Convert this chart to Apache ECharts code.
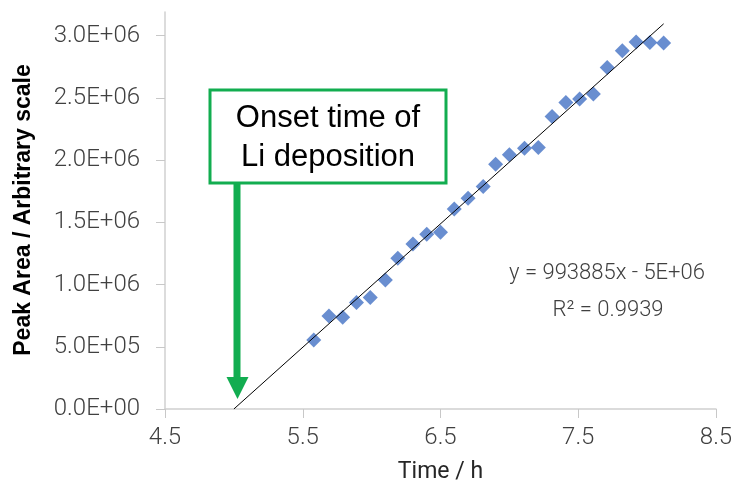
<!DOCTYPE html>
<html>
<head>
<meta charset="utf-8">
<script src="https://cdn.jsdelivr.net/npm/echarts@6/dist/echarts.min.js"></script>
<style>
  html, body { margin: 0; padding: 0; background: #fff; }
  #chart { width: 735px; height: 483px; }
</style>
</head>
<body>
<div id="chart"></div>
<script>
// 测定数据 (时间 h, 峰面积)
var timeH = [5.58, 5.69, 5.79, 5.89, 5.99, 6.10, 6.19, 6.30, 6.40, 6.50, 6.60, 6.70, 6.81,
  6.90, 7.00, 7.11, 7.21, 7.31, 7.41, 7.51, 7.61, 7.71, 7.82, 7.92, 8.02, 8.12]
var peakArea = [555000, 748000, 737000, 855000, 895000, 1037000, 1211000, 1326000, 1404000,
  1420000, 1608000, 1694000, 1787000, 1967000, 2042000, 2096000, 2101000, 2350000, 2462000,
  2490000, 2532000, 2744000, 2878000, 2948000, 2945000, 2940000]

// 近似直线的两端
var trendX = [5.0, 8.12]
var trendY = [0, 3095000]

var eqText = 'y = 993885x - 5E+06'
var r2Text = 'R² = 0.9939'

var green = '#12AD50'
var labelFont = 'Roboto'

function fmtExp (v) {
  if (v === 0) return '0.0E+00'
  var e = Math.floor(Math.log10(v))
  var m = v / Math.pow(10, e)
  return m.toFixed(1) + 'E+' + (e < 10 ? '0' + e : e)
}

var chart = echarts.init(document.getElementById('chart'))

var option = {
  animation: false,
  backgroundColor: '#fff',
  grid: { left: 165, right: 19, top: 12, bottom: 74, outerBoundsMode: 'none', containLabel: false },
  xAxis: {
    type: 'value',
    min: 4.5,
    max: 8.5,
    interval: 1,
    name: 'Time / h',
    nameLocation: 'middle',
    nameGap: 52,
    nameTextStyle: { fontFamily: labelFont, fontSize: 23, color: '#262626' },
    axisLine: { lineStyle: { color: '#D0D0D0', width: 1.5 } },
    axisTick: { inside: false, length: 9, lineStyle: { color: '#C8C8C8' } },
    axisLabel: {
      margin: 17,
      fontFamily: labelFont,
      fontWeight: 300,
      fontSize: 24,
      color: '#404040',
      formatter: function (v) { return v.toFixed(1) }
    },
    splitLine: { show: false }
  },
  yAxis: {
    type: 'value',
    min: 0,
    max: 3190000,
    interval: 500000,
    axisLine: { show: true, lineStyle: { color: '#D0D0D0', width: 1.5 } },
    axisTick: { show: true, length: 9, lineStyle: { color: '#C8C8C8' } },
    axisLabel: {
      margin: 25,
      fontFamily: labelFont,
      fontWeight: 300,
      fontSize: 24,
      color: '#404040',
      showMaxLabel: false,
      formatter: fmtExp
    },
    splitLine: { show: false }
  },
  series: [
    {
      name: 'trend',
      type: 'line',
      data: trendX.map(function (x, i) { return [x, trendY[i]] }),
      symbol: 'none',
      lineStyle: { color: '#000', width: 1 },
      z: 3
    },
    {
      name: 'peak',
      type: 'scatter',
      data: timeH.map(function (x, i) { return [x, peakArea[i]] }),
      symbol: 'diamond',
      symbolSize: 15,
      itemStyle: { color: '#4472C4' },
      z: 2
    }
  ],
  graphic: [
    // 纵轴标题
    {
      type: 'text',
      x: 24,
      y: 210,
      rotation: Math.PI / 2,
      style: {
        text: 'Peak Area / Arbitrary scale',
        font: 'bold 23px "Liberation Sans", Arial, sans-serif',
        fill: '#000',
        align: 'center',
        verticalAlign: 'middle'
      }
    },
    // 注释框
    {
      type: 'rect',
      shape: { x: 210, y: 90, width: 236, height: 93 },
      style: { fill: '#fff', stroke: green, lineWidth: 3 }
    },
    {
      type: 'text',
      x: 328,
      y: 118,
      style: {
        text: 'Onset time of',
        font: '31px "Liberation Sans", Arial, sans-serif',
        fill: '#000',
        align: 'center',
        verticalAlign: 'middle'
      }
    },
    {
      type: 'text',
      x: 328,
      y: 157,
      style: {
        text: 'Li deposition',
        font: '31px "Liberation Sans", Arial, sans-serif',
        fill: '#000',
        align: 'center',
        verticalAlign: 'middle'
      }
    },
    // 箭头
    {
      type: 'rect',
      shape: { x: 233.5, y: 183, width: 7, height: 196 },
      style: { fill: green }
    },
    {
      type: 'polygon',
      shape: { points: [[226.5, 377], [248.5, 377], [237.5, 399]] },
      style: { fill: green }
    },
    // 回归式
    {
      type: 'text',
      x: 607,
      y: 273,
      style: {
        text: eqText,
        font: '300 22px Roboto, sans-serif',
        fill: '#404040',
        align: 'center',
        verticalAlign: 'middle'
      }
    },
    {
      type: 'text',
      x: 608,
      y: 310,
      style: {
        text: r2Text,
        font: '300 22px Roboto, sans-serif',
        fill: '#404040',
        align: 'center',
        verticalAlign: 'middle'
      }
    }
  ]
}

chart.setOption(option)
</script>
</body>
</html>
